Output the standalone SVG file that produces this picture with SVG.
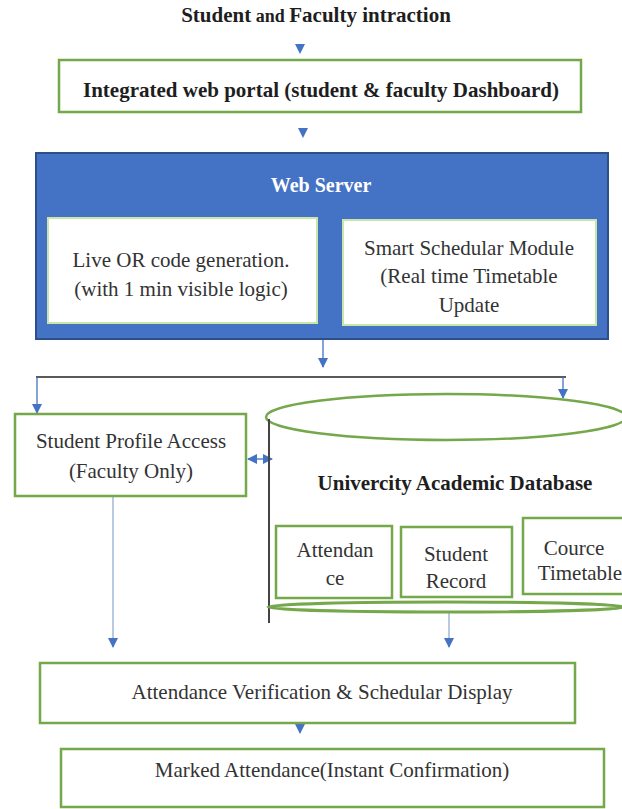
<svg xmlns="http://www.w3.org/2000/svg" width="622" height="809" viewBox="0 0 622 809">
<defs>
<style>
.box{fill:#fff;stroke:#74a84a;stroke-width:2.5}
.t{font-family:"Liberation Serif","Times New Roman",serif;fill:#333;font-size:21px;text-anchor:middle}
.b{font-weight:bold;fill:#1e1e1e}
.w{fill:#fff;font-weight:bold;font-size:20px}
.ln{stroke:#4472c4;stroke-width:1.3;fill:none}
.lt{stroke:#94acd6;stroke-width:1.3;fill:none}
</style>
<marker id="ah" viewBox="0 0 10 10" refX="9" refY="5" markerWidth="10" markerHeight="10" markerUnits="userSpaceOnUse" orient="auto">
<path d="M0,0 L10,5 L0,10 z" fill="#4472c4"/>
</marker>
<marker id="ahs" viewBox="0 0 10 10" refX="1" refY="5" markerWidth="10" markerHeight="10" markerUnits="userSpaceOnUse" orient="auto">
<path d="M10,0 L0,5 L10,10 z" fill="#4472c4"/>
</marker>
</defs>
<rect width="622" height="809" fill="#fff"/>

<g id="title">
<text class="t b" x="316" y="22" font-size="20"><tspan>Student</tspan><tspan font-size="18"> and  </tspan><tspan>Faculty intraction</tspan></text>
</g>

<g id="portal">
<rect class="box" x="59" y="60" width="522" height="52"/>
<text class="t b" x="321" y="97" font-size="21.5">Integrated web portal (student &amp; faculty Dashboard)</text>
</g>

<g id="webserver">
<rect x="36" y="153" width="572" height="186" fill="#4472c4" stroke="#2f4f8a" stroke-width="2"/>
<text class="t w" x="321" y="192">Web Server</text>
</g>

<g id="qr">
<rect x="48" y="218" width="269" height="105" fill="#fff" stroke="#c8e6a8" stroke-width="2"/>
<text class="t" x="181" y="267" font-size="22">Live OR code generation.</text>
<text class="t" x="181" y="296" font-size="22">(with 1 min visible logic)</text>
</g>

<g id="scheduler">
<rect x="343" y="220" width="253" height="105" fill="#fff" stroke="#c8e6a8" stroke-width="2"/>
<text class="t" x="469" y="255" font-size="22">Smart Schedular Module</text>
<text class="t" x="469" y="283" font-size="22">(Real time Timetable</text>
<text class="t" x="469" y="312" font-size="22">Update</text>
</g>

<g id="connectors">
<line class="ln" x1="300" y1="36" x2="300" y2="53" marker-end="url(#ah)" stroke-opacity="0"/>
<line class="ln" x1="303" y1="120" x2="303" y2="137" marker-end="url(#ah)" stroke-opacity="0"/>
<line class="ln" x1="323" y1="340" x2="323" y2="367" marker-end="url(#ah)"/>
<line x1="36" y1="377" x2="566" y2="377" stroke="#5a5a5a" stroke-width="2.2"/>
<line class="ln" x1="37" y1="377" x2="37" y2="413" marker-end="url(#ah)"/>
<line class="ln" x1="563" y1="377" x2="563" y2="398" marker-end="url(#ah)"/>
<line class="ln" x1="248" y1="459" x2="272" y2="459" marker-start="url(#ahs)" marker-end="url(#ah)"/>
<line class="lt" x1="113" y1="497" x2="113" y2="647" marker-end="url(#ah)"/>
<line class="lt" x1="449" y1="612" x2="449" y2="647" marker-end="url(#ah)"/>
<line class="lt" x1="300" y1="708" x2="300" y2="733" marker-end="url(#ah)"/>
</g>

<g id="profile">
<rect class="box" x="15" y="414" width="231" height="82"/>
<text class="t" x="131" y="448">Student Profile Access</text>
<text class="t" x="131" y="478">(Faculty Only)</text>
</g>

<g id="database">
<ellipse cx="446" cy="417" rx="180" ry="23" fill="#fff" stroke="#74a84a" stroke-width="2.5"/>
<line x1="269" y1="419" x2="269" y2="623" stroke="#444" stroke-width="2"/>
<text class="t b" x="455" y="490">Univercity Academic Database</text>
</g>

<g id="attendance">
<rect class="box" x="276" y="526" width="116" height="72"/>
<text class="t" x="335" y="557">Attendan</text>
<text class="t" x="335" y="585">ce</text>
</g>

<g id="record">
<rect class="box" x="401" y="527" width="111" height="70"/>
<text class="t" x="456" y="561">Student</text>
<text class="t" x="456" y="588">Record</text>
</g>

<g id="timetable">
<rect class="box" x="523" y="518" width="110" height="76"/>
<text class="t" x="574" y="555">Cource</text>
<text class="t" x="580" y="580">Timetable</text>
</g>

<g id="dbbase">
<ellipse cx="446" cy="607" rx="178" ry="5" fill="none" stroke="#74a84a" stroke-width="3"/>
</g>

<g id="verification">
<rect class="box" x="40" y="663" width="535" height="60"/>
<text class="t" x="322" y="699">Attendance Verification &amp; Schedular Display</text>
</g>

<g id="marked">
<rect class="box" x="61" y="749" width="543" height="58"/>
<text class="t" x="332" y="777" font-size="21.5">Marked Attendance(Instant Confirmation)</text>
</g>
</svg>
